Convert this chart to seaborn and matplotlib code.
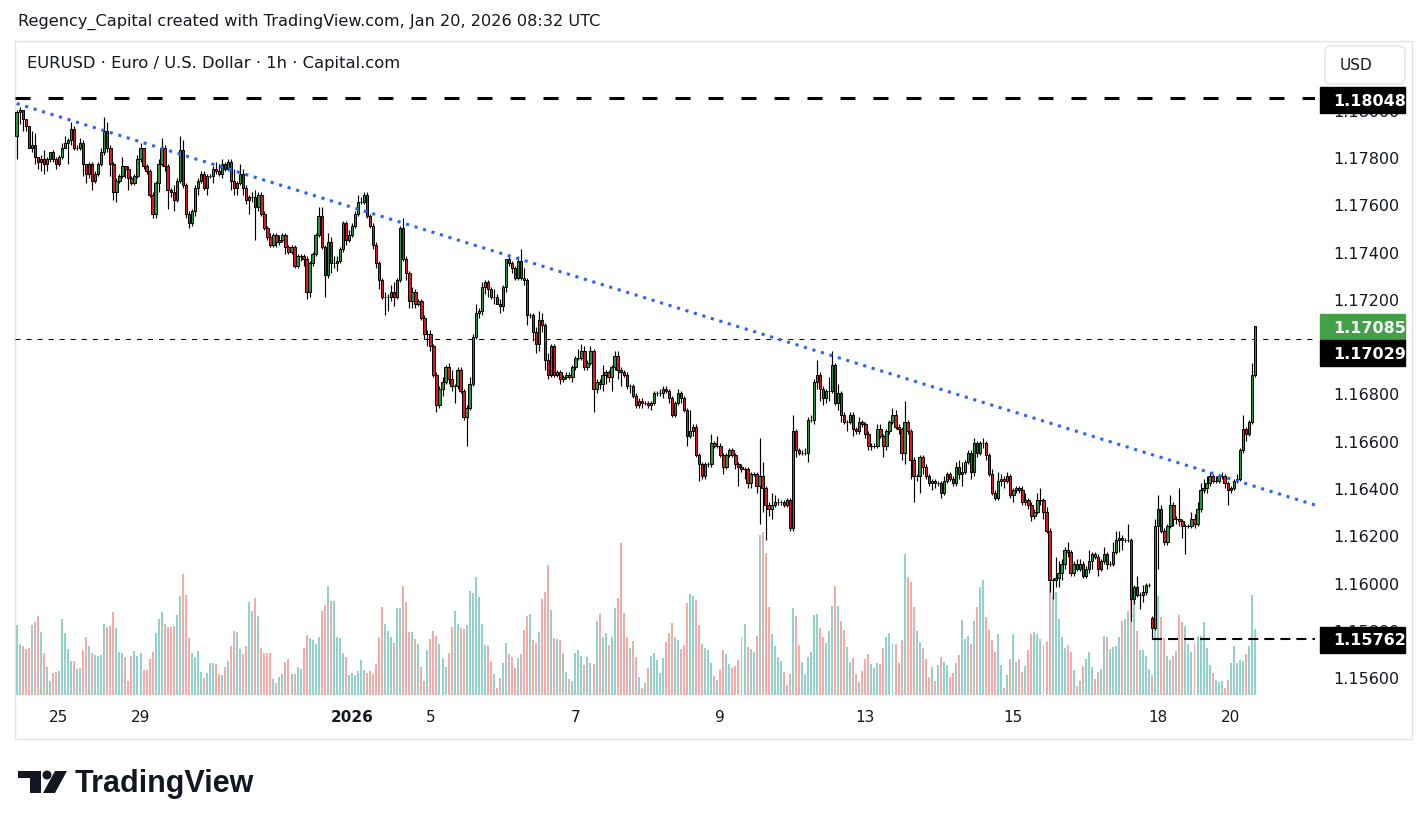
import numpy as np
import pandas as pd
import matplotlib
matplotlib.use("Agg")
import matplotlib.pyplot as plt
import matplotlib.transforms as mtransforms
from matplotlib.patches import Rectangle, Circle, Polygon, FancyBboxPatch
import seaborn as sns

# EURUSD 1h bars, prices stored as pips above 1.15000
base = 1.15
pip = 0.0001
first_open = 289

closes = [
    299, 300, 296, 293, 284, 285, 280, 278, 279, 277,
    279, 282, 279, 277, 280, 284, 286, 287, 292, 284,
    284, 286, 277, 273, 277, 270, 273, 277, 282, 291,
    284, 277, 265, 270, 272, 276, 275, 271, 269, 272,
    279, 284, 276, 274, 264, 256, 269, 277, 284, 276,
    266,
    265, 262, 270, 283, 268, 256, 252, 257, 267,
    270, 273, 267, 272, 272, 275, 274, 273, 277, 275,
    278, 270, 267, 269, 273, 267, 262, 263, 263, 259,
    264, 256, 250, 246, 243, 247, 244, 245, 247, 242,
    240, 242, 234, 238, 238, 237, 223, 235, 239, 247,
    255, 242, 230, 244,
    235, 235, 236, 241, 252, 245, 247, 251, 256, 261,
    261, 264, 255, 251, 243, 235, 228, 221, 221, 221,
    223, 221, 228, 250, 237, 231, 219, 223, 218, 219,
    212, 205, 205, 200, 188, 175, 182, 185, 191, 186,
    183, 183, 190, 181, 170, 174, 184, 204, 214, 215,
    225, 227, 224,
    221, 221, 218, 217, 225, 237, 235, 233, 229, 236,
    229, 228, 213, 213, 206, 201, 211, 209, 194, 188,
    200, 188, 189, 186, 187, 188, 187, 191, 195, 195,
    198, 191, 193, 198, 182, 185, 184, 188, 189, 187,
    191, 196, 190, 189, 188, 183, 183, 179, 175, 177,
    176, 176, 175, 176,
    180, 180, 180, 182, 181, 178, 171, 176, 180,
    178, 173, 162, 164, 166, 154, 150, 145, 150, 150,
    159, 158, 158, 154, 149, 154, 156, 154, 150, 149,
    148, 148, 142, 146, 146, 141, 145, 140, 133, 131,
    133, 134, 134, 134, 133, 135, 123, 164, 156, 155,
    155, 155, 169, 169,
    185, 188, 182, 178, 181, 181,
    192, 176, 180, 171, 168, 168, 171, 165, 164, 168,
    167, 163, 158, 158, 158, 165, 162, 158, 164, 168,
    171, 166, 165, 155, 168, 164, 152, 145, 145, 153,
    149, 145, 142, 143, 142, 142, 138, 143, 146, 144,
    142, 149, 146, 147, 151, 155, 147,
    159, 155, 159,
    159, 154, 146, 138, 136, 143, 144, 143, 145, 137,
    139, 140, 139, 134, 135, 133, 128, 130, 135, 135,
    130, 122, 101, 101, 102, 104, 108, 114, 113, 104,
    108, 106, 108, 103, 106, 109, 112, 111, 106, 109,
    112, 108, 108, 113, 118, 119, 118, 118, 118, 93,
    98, 95, 95, 96, 99, 99, 81, 124, 131, 122,
    117, 124, 133, 127, 127, 126, 124, 124, 124, 127,
    125, 131, 139, 140, 142, 145, 143, 143, 145, 145,
    142, 139, 140, 143, 144, 156, 165, 163, 168, 188,
    208.5,
]

upper_wick = [
    1, 1, 0, 0, 0, 6, 5, 0, 2, 4, 1, 0, 1, 1, 1, 2, 3, 1, 3, 1,
    1, 2, 1, 0, 1, 1, 1, 1, 2, 6, 4, 1, 1, 1, 1, 4, 0, 1, 1, 1,
    2, 2, 0, 1, 1, 1, 1, 2, 4, 1, 1,
    1, 3, 1, 6, 4, 1, 1, 1, 1,
    1, 1, 1, 1, 1, 1, 3, 3, 2, 1, 1, 1, 5, 1, 4, 2, 1, 1, 2, 3,
    1, 1, 1, 1, 2, 1, 1, 2, 1, 1, 1, 1, 1, 1, 1, 1, 1, 1, 1, 1,
    4, 4, 1, 4,
    2, 3, 2, 1, 1, 1, 2, 1, 1, 3, 2, 1, 1, 1, 1, 1, 1, 1, 2, 1,
    3, 4, 1, 1, 4, 1, 1, 2, 1, 1, 1, 1, 2, 2, 1, 1, 1, 2, 1, 2,
    4, 1, 1, 1, 1, 1, 3, 1, 4, 1, 2, 1, 1,
    1, 3, 1, 2, 1, 0, 1, 1, 1, 2, 5, 4, 1, 1, 1, 2, 4, 3, 1, 3,
    1, 1, 1, 1, 1, 1, 1, 1, 1, 4, 3, 2, 1, 2, 1, 1, 1, 4, 1, 1,
    1, 2, 2, 1, 1, 1, 1, 1, 1, 1, 1, 1, 1, 1,
    1, 1, 2, 1, 1, 1, 1, 1, 2,
    1, 1, 1, 9, 1, 1, 1, 1, 1, 1, 4, 1, 4, 1, 1, 1, 1, 1, 1, 1,
    1, 1, 1, 1, 1, 1, 16, 6, 1, 1, 5, 3, 2, 1, 1, 1, 1, 7, 1, 1,
    1, 2, 1, 2,
    1, 6, 1, 1, 1, 6,
    6, 1, 4, 1, 1, 1, 1, 1, 1, 2, 1, 1, 1, 1, 1, 2, 2, 1, 1, 1,
    3, 2, 1, 1, 9, 1, 1, 1, 1, 1, 1, 1, 1, 1, 1, 1, 1, 2, 1, 1,
    1, 2, 3, 4, 1, 1, 1,
    2, 1, 1,
    2, 1, 1, 2, 1, 4, 2, 1, 2, 1, 1, 1, 1, 2, 3, 1, 1, 1, 3, 5,
    1, 2, 1, 1, 9, 5, 2, 1, 3, 1, 1, 2, 2, 1, 1, 5, 1, 1, 1, 1,
    3, 1, 1, 4, 4, 3, 1, 1, 7, 1,
    1, 5, 1, 3, 1, 1, 1, 3, 6, 2, 1, 1, 4, 1, 1, 13, 1, 1, 1, 3,
    2, 3, 3, 4, 3, 2, 1, 2, 1, 2, 1, 1, 1, 1, 2, 1, 6, 1, 1, 5,
    0,
]

lower_wick = [
    10, 5, 5, 2, 0, 2, 3, 3, 4, 4, 3, 1, 1, 2, 1, 1, 0, 9, 2, 1,
    1, 1, 5, 4, 2, 4, 1, 1, 1, 1, 2, 5, 3, 4, 1, 1, 4, 5, 1, 1,
    1, 1, 1, 1, 1, 2, 2, 4, 1, 2, 8,
    2, 5, 1, 1, 1, 2, 2, 1, 2,
    3, 1, 1, 3, 1, 3, 1, 1, 2, 1, 1, 4, 3, 3, 1, 3, 2, 6, 2, 14,
    2, 1, 1, 1, 1, 1, 2, 1, 1, 3, 1, 1, 1, 1, 2, 3, 3, 2, 1, 1,
    1, 1, 9, 1,
    4, 2, 3, 1, 1, 2, 1, 1, 1, 1, 1, 1, 1, 1, 2, 2, 4, 1, 8, 6,
    2, 4, 1, 1, 1, 3, 3, 3, 2, 1, 1, 2, 5, 2, 1, 3, 1, 3, 1, 2,
    2, 7, 1, 1, 1, 12, 1, 1, 1, 2, 2, 3, 3,
    1, 3, 0, 3, 2, 2, 1, 2, 1, 1, 1, 2, 4, 1, 4, 4, 3, 3, 4, 2,
    1, 1, 1, 2, 1, 1, 1, 2, 1, 1, 1, 1, 1, 1, 10, 2, 2, 3, 4, 2,
    6, 1, 4, 6, 1, 1, 3, 1, 1, 1, 2, 1, 1, 2,
    1, 1, 1, 2, 1, 2, 1, 1, 1,
    2, 1, 4, 1, 2, 1, 7, 1, 1, 1, 1, 1, 1, 1, 3, 1, 1, 1, 2, 8,
    1, 4, 2, 2, 1, 3, 16, 10, 15, 3, 4, 1, 1, 1, 1, 1, 1, 1, 3, 1,
    1, 1, 4, 1,
    2, 3, 5, 3, 2, 4,
    1, 1, 3, 3, 1, 4, 1, 3, 1, 1, 1, 2, 2, 2, 1, 1, 1, 5, 2, 1,
    1, 1, 2, 3, 5, 1, 8, 11, 2, 7, 3, 1, 1, 3, 2, 1, 2, 1, 1, 1,
    1, 1, 2, 5, 1, 1, 3,
    2, 2, 1,
    2, 2, 1, 1, 1, 1, 2, 3, 1, 1, 3, 1, 1, 1, 1, 2, 2, 1, 1, 2,
    3, 1, 5, 8, 3, 4, 3, 2, 2, 1, 1, 1, 1, 1, 1, 2, 3, 1, 3, 1,
    1, 2, 1, 1, 1, 5, 4, 1, 1, 9,
    2, 1, 6, 3, 1, 1, 5, 1, 18, 1, 1, 1, 1, 3, 2, 2, 5, 12, 1, 1,
    2, 1, 1, 1, 2, 1, 1, 1, 1, 1, 2, 6, 1, 1, 1, 1, 1, 3, 1, 1,
    1,
]

# weekend gap: Sunday open of the last week
gap_bars = [376]
gap_opens = [85]

volume = [
    180, 132, 127, 118, 122, 180, 188, 203, 162, 108, 73, 37, 57, 59, 62, 195, 160, 118, 88, 88,
    67, 70, 117, 149, 127, 107, 103, 100, 103, 183, 175, 177, 213, 172, 112, 107, 99, 37, 100, 113,
    100, 107, 65, 65, 93, 112, 160, 195, 213, 183, 175,
    175, 177, 205, 255, 310, 257, 147, 107, 98, 113, 59, 45, 57, 82, 82, 79, 53, 51, 72, 88,
    125, 165, 162, 118, 105, 125, 240, 217, 249, 203, 122, 108, 108, 108, 42, 30, 47, 54, 85, 93,
    54, 54, 73, 68, 122, 155, 147, 142, 132, 149, 217, 232, 280,
    243, 242,
    149, 147, 108, 98, 52, 57, 52, 62, 90, 64, 57, 62, 54, 80, 149, 226, 183, 165, 149, 135,
    224, 224, 280, 239, 162, 162, 144, 132, 72, 37, 116, 144, 165, 152, 132, 95, 72, 108, 175, 216,
    183, 173, 170, 180, 267, 262, 303, 252, 183, 129, 127, 88, 54,
    18, 44, 82, 134, 105, 98, 70, 95, 105, 167, 203, 208, 142, 134, 162, 247, 265, 334, 219, 147,
    144, 142, 108, 59, 41, 36, 108, 116, 100, 77, 98, 82, 80, 190, 208, 149, 160, 129, 149, 224,
    249, 391, 211, 149, 121, 139, 98, 47, 18, 31, 70,
    100, 108, 90, 57, 95, 136, 160, 185, 149, 142, 118, 129, 237, 260, 255, 245, 180, 131, 121, 116,
    82, 49, 39, 64, 116, 105, 80, 70, 75, 90, 149, 183, 124, 118, 111, 152, 412, 420, 365, 226,
    157, 126, 98, 88, 59, 26, 54, 224, 203, 129, 85, 54, 98, 111, 206,
    208, 172, 149, 134, 165, 229, 280, 229, 190, 167, 124, 85, 95, 54, 34, 62, 93, 105, 80, 70,
    82, 80, 121, 149, 160, 134, 131, 82, 142, 363, 303, 291, 226, 165, 136, 121, 93, 47, 72, 36,
    77, 98, 85, 77, 46, 57, 82, 103, 193, 144, 152, 132, 190,
    226, 278, 296, 201, 167, 142, 111, 157, 77, 18, 52, 93, 157, 85, 93, 59, 75, 116, 157, 162,
    157, 144, 129, 136, 291, 255, 265, 195, 149, 121, 129, 111, 64, 23, 36, 75, 93, 111, 72, 41,
    59, 67, 152, 149, 118, 124, 126, 149, 190, 195, 216, 275, 245,
    165, 116, 116, 100, 67, 52, 275, 255, 201, 147, 100, 90, 100, 113, 206, 188, 177, 131, 111, 134,
    152, 152, 188, 121, 77, 57, 39, 34, 36, 18, 39, 82, 126, 82, 90, 88, 105, 126, 257, 170,
]

date_ticks = [14, 41, 111, 137, 185, 233, 281, 330, 378, 402]
date_labels = ["25", "29", "2026", "5", "7", "9", "13", "15", "18", "20"]
# 1.17000 sits fully under the price tags, so it is left out
price_ticks = [1.156, 1.158, 1.160, 1.162, 1.164, 1.166, 1.168,
               1.172, 1.174, 1.176, 1.178, 1.180]

resistance = 1.18048
swing_low = 1.15762
swing_low_bar = 376
prev_close = 1.17029
last_price = 1.17085
trend_bars = [0, 430]
trend_prices = [1.18026, 1.16328]

# ---- build ohlc
c = base + np.array(closes, dtype=float) * pip
o = np.r_[base + first_open * pip, c[:-1]]
for b, v in zip(gap_bars, gap_opens):
    o[b] = base + v * pip
h = np.maximum(o, c) + np.array(upper_wick) * pip
l = np.minimum(o, c) - np.array(lower_wick) * pip
df = pd.DataFrame({"bar": np.arange(len(c)), "open": o, "high": h,
                   "low": l, "close": c, "volume": volume})
df["dir"] = np.where(df.close >= df.open, "up", "down")

sns.set_theme(style="white")
plt.rcParams["font.family"] = ["DejaVu Sans"]
TXT = "#131722"

W, H = 1427, 829
fig = plt.figure(figsize=(W / 100, H / 100), dpi=100)
fig.patch.set_facecolor("white")
px = mtransforms.IdentityTransform()


def fbox(x0, y0, x1, y1):
    return [x0 / W, 1 - y1 / H, (x1 - x0) / W, (y1 - y0) / H]


ax = fig.add_axes(fbox(15, 42, 1315, 700))
vax = ax.twinx()
ax.set_zorder(vax.get_zorder() + 1)
ax.patch.set_visible(False)

# volume (behind the candles)
sns.barplot(data=df, x="bar", y="volume", hue="dir", native_scale=True,
            palette={"up": "#92d2cc", "down": "#f7a9a8"}, saturation=1,
            width=0.66, linewidth=0, errorbar=None, dodge=False,
            legend=False, ax=vax)
vax.set_ylim(-10, 1681)
vax.axis("off")

# candles
ax.vlines(df.bar, df.low, df.high, color="black", linewidth=0.85, zorder=2)
body_lo = np.minimum(df.open, df.close)
body_h = (df.close - df.open).abs()
ax.bar(df.bar, body_h, bottom=body_lo, width=0.8,
       color=np.where(df.dir == "up", "#1f9a38", "#e3141c"),
       edgecolor="black", linewidth=0.7, zorder=3)

# drawings
sns.lineplot(x=trend_bars, y=trend_prices, ax=ax, color="#2962ff",
             linewidth=2.2, linestyle=(0, (1, 1.9)), zorder=4)
ax.axhline(resistance, color="black", lw=2.2, ls=(0, (4.9, 5.9)), zorder=4)
ax.axhline(prev_close, color="black", lw=0.75, ls=(0, (4.8, 5.8)), zorder=1.5)
ax.hlines(swing_low, swing_low_bar, 432, color="black", lw=1.5,
          ls=(0, (4.8, 2.9)), zorder=4)

ax.set_xlim(-0.56, 429.9)
ax.set_ylim(1.155082, 1.182905)
ax.set_xlabel("")
ax.set_ylabel("")
ax.grid(False)
for s in ax.spines.values():
    s.set_visible(False)

ax.yaxis.tick_right()
ax.set_yticks(price_ticks, [f"{t:.5f}" for t in price_ticks])
ax.tick_params(axis="y", length=0, pad=13, labelsize=11.5, labelcolor=TXT)
ax.set_xticks(date_ticks, date_labels)
ax.tick_params(axis="x", length=0, pad=7, labelsize=11, labelcolor=TXT)
ax.get_xticklabels()[2].set_fontweight("bold")

fig.canvas.draw()


def tag(price, text, bg, shift=0):
    yc = ax.transData.transform((0, price))[1] - shift
    fig.add_artist(Rectangle((1320, yc - 13), 85, 26, transform=px,
                             facecolor=bg, edgecolor=bg, zorder=10))
    fig.text(1333, yc, text, transform=px, color="white", fontsize=11.5,
             fontweight="bold", va="center", ha="left", zorder=11)


tag(resistance, "1.18048", "black", shift=2)
tag(last_price, "1.17085", "#43a047", shift=1)
tag(prev_close, "1.17029", "black", shift=14)
tag(swing_low, "1.15762", "black", shift=1)

# frame and header
fig.add_artist(Rectangle((15, H - 740), 1397, 698, transform=px, fill=False,
                         edgecolor="#e0e3eb", linewidth=1, zorder=0))
fig.add_artist(FancyBboxPatch((1325, H - 85), 80, 38, transform=px,
                              boxstyle="round,pad=0,rounding_size=6",
                              facecolor="white", edgecolor="#e0e3eb", lw=1, zorder=9))
fig.text(1340, H - 66, "USD", transform=px, color=TXT, fontsize=11, va="center", zorder=10)
fig.text(18, H - 22, "Regency_Capital created with TradingView.com, Jan 20, 2026 08:32 UTC",
         transform=px, color=TXT, fontsize=11.6, va="center")
fig.text(27, H - 64, "EURUSD \u00b7 Euro / U.S. Dollar \u00b7 1h \u00b7 Capital.com",
         transform=px, color=TXT, fontsize=11.8, va="center")

# TradingView logo
fig.add_artist(Rectangle((18, H - 779), 23, 7, transform=px, color=TXT, lw=0))
fig.add_artist(Rectangle((30, H - 794), 11, 22, transform=px, color=TXT, lw=0))
fig.add_artist(Circle((47, H - 776), 4.5, transform=px, color=TXT, lw=0))
fig.add_artist(Polygon([(55, H - 772), (67, H - 772), (55, H - 794), (43, H - 794)],
                       closed=True, transform=px, color=TXT, lw=0))
fig.text(75, H - 784, "TradingView", transform=px, color=TXT, fontsize=22,
         fontweight="bold", va="center", family="Liberation Sans")

fig.savefig("out.png", dpi=100, facecolor="white")
